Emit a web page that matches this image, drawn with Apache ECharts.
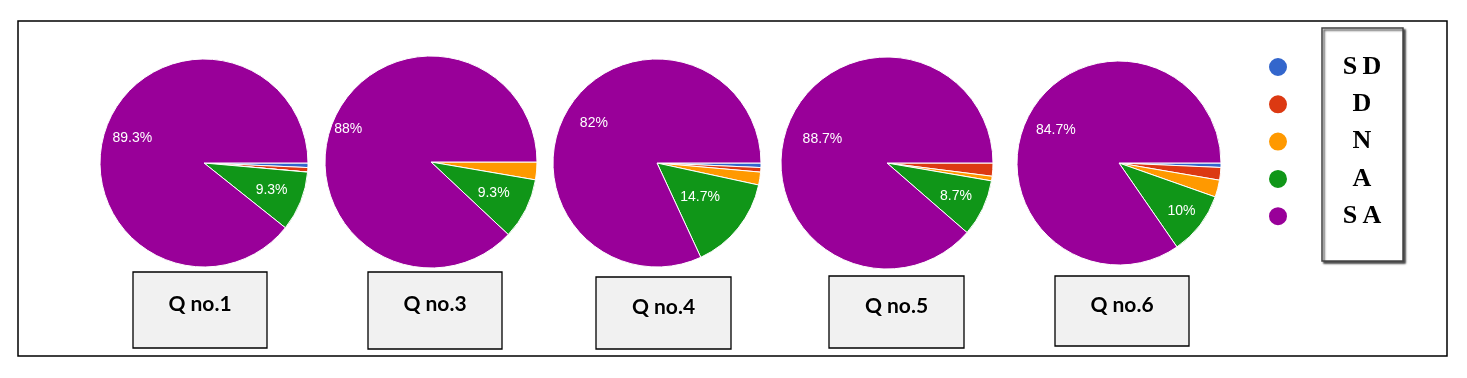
<!DOCTYPE html>
<html>
<head>
<meta charset="utf-8">
<title>Responses per question</title>
<script src="https://cdn.jsdelivr.net/npm/echarts@6/dist/echarts.min.js"></script>
<style>
  html, body { margin: 0; padding: 0; background: #fff; }
  #chart { width: 1467px; height: 378px; }
</style>
</head>
<body>
<div id="chart"></div>
<script>
// data (percent of respondents)
const questions = ['Q no.1', 'Q no.3', 'Q no.4', 'Q no.5', 'Q no.6'];
const categories = ['SD', 'D', 'N', 'A', 'SA'];
const sdValues = [0.7, 0, 0.7, 0, 0.7];
const dValues = [0.7, 0, 0.7, 2.0, 2.0];
const nValues = [0, 2.7, 2.0, 0.7, 2.7];
const aValues = [9.3, 9.3, 14.7, 8.7, 10];
const saValues = [89.3, 88, 82, 88.7, 84.7];

const colors = ['#3366cc', '#dc3912', '#ff9900', '#109618', '#990099'];

// layout of each pie and its caption box
const pies = [
  { cx: 204, cy: 163, r: 104, box: [133, 272, 134, 76], saK: 0.73, aK: 0.70 },
  { cx: 431, cy: 162, r: 106, box: [368, 272, 134, 77], saK: 0.84, aK: 0.66 },
  { cx: 657, cy: 163, r: 104, box: [596, 277, 135, 72], saK: 0.72, aK: 0.53 },
  { cx: 887, cy: 163, r: 106, box: [829, 276, 135, 72], saK: 0.65, aK: 0.72 },
  { cx: 1119, cy: 163, r: 102, box: [1055, 276, 134, 70], saK: 0.70, aK: 0.77 }
];

const valueRows = [sdValues, dValues, nValues, aValues, saValues];

function sliceValues(q) {
  return valueRows.map(row => row[q]);
}

function labelPos(q, idx) {
  const vals = sliceValues(q);
  const total = vals.reduce((s, v) => s + v, 0);
  let before = 0;
  for (let i = 0; i < idx; i++) before += vals[i];
  const theta = (before + vals[idx] / 2) / total * Math.PI * 2;
  const p = pies[q];
  const k = idx === 4 ? p.saK : p.aK;
  return {
    x: p.cx + Math.cos(theta) * p.r * k,
    y: p.cy + Math.sin(theta) * p.r * k,
    align: 'center',
    verticalAlign: 'middle'
  };
}

const chart = echarts.init(document.getElementById('chart'));

const series = questions.map((q, qi) => ({
  type: 'pie',
  center: [pies[qi].cx, pies[qi].cy],
  radius: pies[qi].r,
  startAngle: 0,
  clockwise: true,
  animation: false,
  silent: true,
  itemStyle: { borderColor: '#fff', borderWidth: 1 },
  label: {
    show: true,
    position: 'inside',
    color: '#fff',
    fontFamily: 'Liberation Sans, Arial, sans-serif',
    fontSize: 14,
    formatter: p => p.value >= 5 ? p.value + '%' : ''
  },
  labelLine: { show: false },
  labelLayout: params => labelPos(qi, params.dataIndex),
  emphasis: { disabled: true },
  data: categories.map((c, ci) => ({
    name: c,
    value: valueRows[ci][qi],
    itemStyle: { color: colors[ci] }
  }))
}));

const graphics = [
  {
    type: 'rect',
    z: -10,
    shape: { x: 18, y: 21, width: 1429, height: 335 },
    style: { fill: '#fff', stroke: '#000', lineWidth: 1.5 }
  },
  {
    type: 'rect',
    z: -5,
    shape: { x: 1322, y: 28, width: 81, height: 233 },
    style: {
      fill: '#fff', stroke: '#444', lineWidth: 1.5,
      shadowColor: 'rgba(0,0,0,0.7)', shadowBlur: 2, shadowOffsetX: 2, shadowOffsetY: 2
    }
  }
];

questions.forEach((q, qi) => {
  const [bx, by, bw, bh] = pies[qi].box;
  graphics.push({
    type: 'rect',
    z: -5,
    shape: { x: bx, y: by, width: bw, height: bh },
    style: { fill: '#f1f1f1', stroke: '#000', lineWidth: 1.3 }
  });
  graphics.push({
    type: 'text',
    z: 5,
    x: bx + bw / 2,
    y: by + bh / 2 - 6,
    style: {
      text: q,
      fill: '#000',
      font: 'bold 21px Lato, "Open Sans", sans-serif',
      align: 'center',
      verticalAlign: 'middle',
      textShadowColor: '#fff',
      textShadowBlur: 3
    }
  });
});

chart.setOption({
  backgroundColor: '#fff',
  color: colors,
  legend: {
    orient: 'vertical',
    left: 1262,
    top: 49,
    icon: 'circle',
    itemWidth: 20,
    itemHeight: 22,
    itemGap: 11.3,
    selectedMode: false,
    data: categories,
    formatter: name => '{c|' + name.split('').join('\u2009') + '}',
    textStyle: {
      rich: {
        c: {
          fontFamily: 'Liberation Serif, "DejaVu Serif", serif',
          fontWeight: 'bold',
          fontSize: 26,
          color: '#000',
          width: 138,
          height: 22,
          lineHeight: 22,
          align: 'center'
        }
      }
    }
  },
  graphic: graphics,
  series: series
});
</script>
</body>
</html>
